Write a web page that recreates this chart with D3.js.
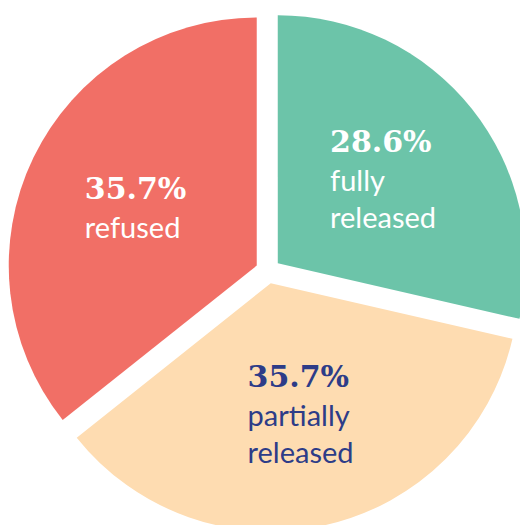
<!DOCTYPE html>
<html>
<head>
<meta charset="utf-8">
<script src="https://cdn.jsdelivr.net/npm/d3@7"></script>
<style>
  html, body { margin: 0; padding: 0; background: #ffffff; }
  svg { display: block; }
</style>
</head>
<body>
<svg id="chart" width="520" height="525"></svg>
<script>
// ---- data ----
const categories = ["fully released", "partially released", "refused"];
const values = [28.6, 35.7, 35.7];
const labelLines = [["fully", "released"], ["partially", "released"], ["refused"]];
const colors = ["#6cc4a9", "#fedcb1", "#f16f66"];
const textColors = ["#ffffff", "#2d3c88", "#ffffff"];

// ---- layout ----
const W = 520, H = 525;
const cx = 268, cy = 271, R = 248, explode = 12.5, labelR = 147;

const svg = d3.select("#chart");
const g = svg.append("g").attr("transform", `translate(${cx},${cy})`);

const data = categories.map((c, i) => ({ cat: c, value: values[i], lines: labelLines[i], i }));

const pie = d3.pie().sort(null).value(d => d.value).startAngle(0).endAngle(2 * Math.PI);
const arcs = pie(data);
const arc = d3.arc().innerRadius(0).outerRadius(R);
const color = d3.scaleOrdinal().domain(categories).range(colors);
const tcolor = d3.scaleOrdinal().domain(categories).range(textColors);

function offset(a, r) {
  const mid = (a.startAngle + a.endAngle) / 2;
  return [Math.sin(mid) * r, -Math.cos(mid) * r];
}

g.selectAll("path.slice")
  .data(arcs)
  .join("path")
  .attr("class", "slice")
  .attr("d", arc)
  .attr("fill", d => color(d.data.cat))
  .attr("transform", d => { const [x, y] = offset(d, explode); return `translate(${x},${y})`; });

const fmt = d3.format(".1f");
const lineGap = 37, firstGap = 39;

arcs.forEach(a => {
  const [lx, ly] = offset(a, labelR);
  const lg = g.append("g");
  const tc = tcolor(a.data.cat);
  const pct = lg.append("text")
    .attr("font-family", "'DejaVu Serif', serif")
    .attr("font-weight", "bold")
    .attr("font-size", 30)
    .attr("fill", tc)
    .attr("y", 0)
    .text(fmt(a.data.value) + "%");
  const subs = a.data.lines.map((t, k) =>
    lg.append("text")
      .attr("font-family", "Lato, sans-serif")
      .attr("font-size", 29)
      .attr("fill", tc)
      .attr("y", firstGap + k * lineGap)
      .text(t));
  const all = [pct, ...subs];
  const maxW = d3.max(all, t => t.node().getComputedTextLength());
  all.forEach(t => t.attr("x", 0).attr("text-anchor", "start"));
  const bb = lg.node().getBBox();
  lg.attr("transform", `translate(${lx - maxW / 2},${ly - (bb.y + bb.height / 2)})`);
});
</script>
</body>
</html>
